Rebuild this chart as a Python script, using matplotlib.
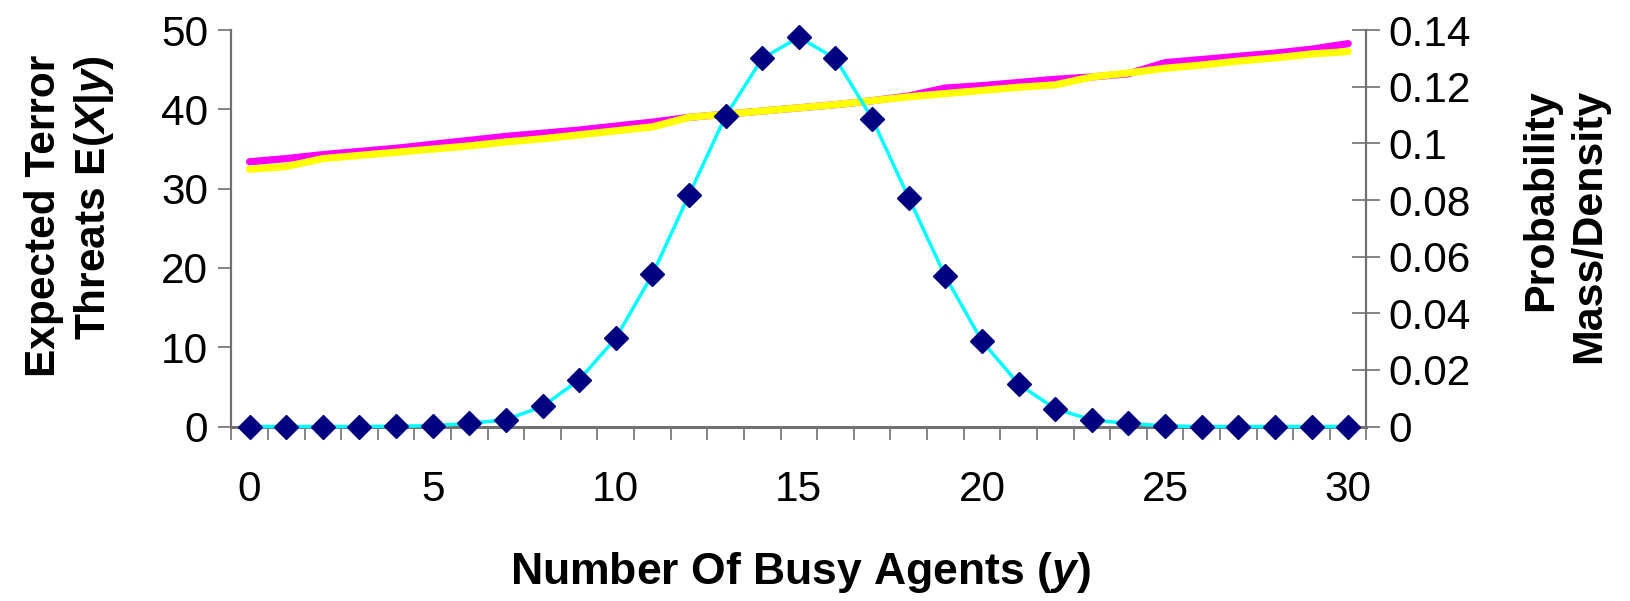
"""
Expected terror threats vs. number of busy agents, with the probability
mass of busy agents on a second axis. Excel-style category axis.
"""

import matplotlib
matplotlib.use("Agg")
import matplotlib.pyplot as plt
from matplotlib.ticker import FixedLocator, FuncFormatter

# ── data ─────────────────────────────────────────────────────────────────────
busy_agents = list(range(31))

expected_threats_a = [   # magenta
    33.4, 33.8, 34.3, 34.7, 35.1, 35.6, 36.1, 36.6, 37.0, 37.4,
    37.9, 38.4, 39.0, 39.4, 39.8, 40.2, 40.6, 41.1, 41.7, 42.7,
    43.0, 43.4, 43.8, 44.1, 44.5, 45.9, 46.3, 46.7, 47.1, 47.6,
    48.3,
]
expected_threats_b = [   # yellow
    32.45, 32.8, 33.8, 34.2, 34.6, 35.0, 35.4, 35.9, 36.3, 36.8,
    37.3, 37.8, 39.0, 39.4, 39.8, 40.2, 40.6, 41.1, 41.6, 42.0,
    42.4, 42.8, 43.1, 44.1, 44.6, 45.2, 45.6, 46.1, 46.5, 47.0,
    47.3,
]
prob_mass = [
    0.0, 0.0, 0.0, 0.0, 0.0001, 0.0003, 0.0011, 0.0024, 0.0071, 0.0165,
    0.0312, 0.0537, 0.0818, 0.1097, 0.1300, 0.1375, 0.1300, 0.1088, 0.0808, 0.0530,
    0.0302, 0.0150, 0.0063, 0.0023, 0.0011, 0.0002, 0.0, 0.0, 0.0, 0.0,
    0.0,
]

x_labels_at = [0, 5, 10, 15, 20, 25, 30]
left_ticks = [0, 10, 20, 30, 40, 50]
right_ticks = [0, 0.02, 0.04, 0.06, 0.08, 0.10, 0.12, 0.14]

C_MAGENTA = "#ff00ff"
C_YELLOW = "#ffff00"
C_CYAN = "#00ffff"
C_NAVY = "#000080"
C_AXIS = "#707070"

plt.rcParams.update({
    "font.family": ["Liberation Sans", "DejaVu Sans"],
    "font.size": 30,
    "mathtext.fontset": "custom",
    "mathtext.rm": "Liberation Sans:bold",
    "mathtext.it": "Liberation Sans:italic:bold",
    "mathtext.bf": "Liberation Sans:bold",
})


def main():
    fig = plt.figure(figsize=(16.31, 6.01), dpi=100)
    ax = fig.add_subplot(111)
    fig.subplots_adjust(left=0.1418, right=0.8378, bottom=0.2903, top=0.9498)
    ax2 = ax.twinx()

    # threat curves, left axis
    ax.plot(busy_agents, expected_threats_a, color=C_MAGENTA, lw=5.2,
            solid_capstyle="round", zorder=2)
    ax.plot(busy_agents, expected_threats_b, color=C_YELLOW, lw=5.2,
            solid_capstyle="round", zorder=3)

    # probability mass, right axis
    ax2.plot(busy_agents, prob_mass, color=C_CYAN, lw=2.5, marker="D",
             ms=12, mfc=C_NAVY, mec=C_NAVY, clip_on=False, zorder=4)

    ax.set_xlim(-0.5, 30.5)
    ax.set_ylim(0, 50)
    ax2.set_ylim(0, 0.14)

    # category-style x axis: ticks between categories, labels under points
    ax.xaxis.set_major_locator(FixedLocator(x_labels_at))
    ax.xaxis.set_minor_locator(FixedLocator([i - 0.5 for i in range(32)]))
    ax.tick_params(axis="x", which="major", length=0, pad=31, labelsize=30.5)
    ax.tick_params(axis="x", which="minor", length=9.5, width=1.2,
                   color=C_AXIS, direction="out")

    ax.set_yticks(left_ticks)
    ax.tick_params(axis="y", length=9.5, width=1.2, color=C_AXIS,
                   direction="out", pad=7, labelsize=30.5)

    ax2.set_yticks(right_ticks)
    ax2.yaxis.set_major_formatter(FuncFormatter(lambda v, _: f"{v:g}"))
    ax2.tick_params(axis="y", length=20, width=1.2, color=C_AXIS,
                    direction="inout", pad=6, labelsize=30.5)

    for a in (ax, ax2):
        a.spines["top"].set_visible(False)
        for s in a.spines.values():
            s.set_color(C_AXIS)
            s.set_linewidth(1.6)
    ax.spines["right"].set_visible(False)
    ax2.spines["left"].set_visible(False)
    ax2.spines["bottom"].set_visible(False)
    ax.spines["bottom"].set_linewidth(2.2)

    fig.text(0.043, 0.641, "Expected Terror\nThreats E($X$|$y$)",
             rotation=90, ha="center", va="center", multialignment="right",
             fontsize=30.5, fontweight="bold", linespacing=1.25)
    fig.text(0.9596, 0.624, "Probability\nMass/Density",
             rotation=90, ha="center", va="center", multialignment="right",
             fontsize=31, fontweight="bold", linespacing=1.25)
    fig.text(0.491, 0.048, "Number Of Busy Agents ($y$)",
             ha="center", va="center", fontsize=32, fontweight="bold")

    fig.savefig("out.png", dpi=100)
    plt.close(fig)


if __name__ == "__main__":
    main()
